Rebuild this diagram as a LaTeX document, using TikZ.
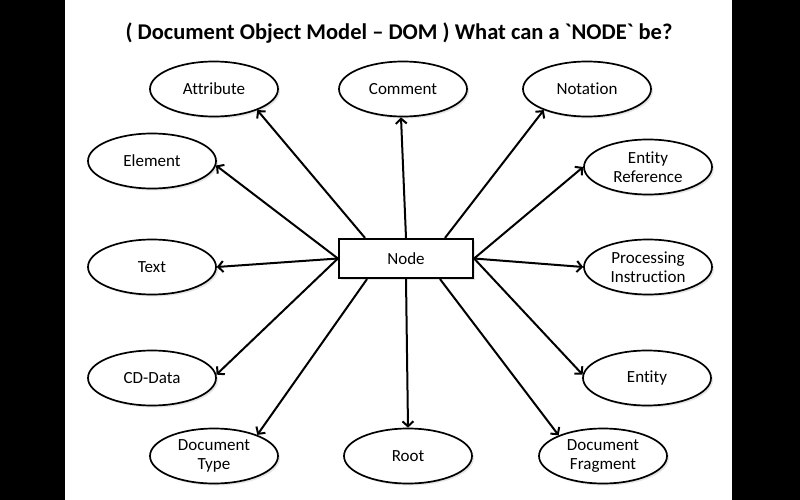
\documentclass[tikz,border=0pt]{standalone}
\usepackage{fontspec}
\setmainfont{Carlito}[Ligatures=CommonOff]
\newfontfamily\ttlfont{Carlito}[Ligatures={TeXOff,CommonOff}]
\usetikzlibrary{arrows.meta,shadows,shapes.geometric}
\begin{document}
\begin{tikzpicture}[x=1pt,y=-1pt,
  ell/.style={ellipse,draw,line width=1.7pt,minimum width=128pt,minimum height=55pt,
    inner sep=0pt,align=center,font=\fontsize{17}{19.5}\selectfont,fill=white,
    drop shadow={shadow xshift=2pt,shadow yshift=-2pt,opacity=0.2}},
  box/.style={rectangle,draw,line width=2.2pt,minimum width=134pt,minimum height=39pt,
    inner sep=0pt,fill=white,font=\fontsize{17}{19.5}\selectfont,
    drop shadow={shadow xshift=2pt,shadow yshift=-2pt,opacity=0.2}},
  arr/.style={line width=2pt,-{Straight Barb[length=5pt,width=11pt]}},
  ttl/.style={font=\ttlfont\fontsize{22.5}{26}\selectfont\bfseries}]
\useasboundingbox (0,0) rectangle (800,500);
\fill[black] (0,0) rectangle (65,500);
\fill[black] (732,0) rectangle (800,500);
\fill[white] (65,0) rectangle (732,500);

\node[ttl] (title) at (399,33) {( Document Object Model – DOM ) What can a `NODE` be?};

\node[box] (n) at (406,258.5) {Node};

\node[ell] (attr) at (214,89) {Attribute};
\node[ell] (comm) at (403,89) {Comment};
\node[ell] (nota) at (587,89) {Notation};
\node[ell] (elem) at (152,161) {Element};
\node[ell] (eref) at (648,167) {Entity\\Reference};
\node[ell] (text) at (152,267) {Text};
\node[ell] (proc) at (648,267) {Processing\\Instruction};
\node[ell] (cdd) at (152,378) {CD-Data};
\node[ell] (ent) at (647,378) {Entity};
\node[ell] (dtype) at (214,456) {Document\\Type};
\node[ell] (root) at (408,456) {Root};
\node[ell] (frag) at (603,456) {Document\\Fragment};

\draw[arr] ([xshift=-41pt]n.north) -- (attr.-26);
\draw[arr] (n.north) -- ([xshift=-2pt]comm.south);
\draw[arr] ([xshift=39pt]n.north) -- (nota.-154);
\draw[arr] (n.west) -- (elem.-4);
\draw[arr] (n.west) -- (text.0);
\draw[arr] (n.west) -- (cdd.3);
\draw[arr] (n.east) -- (eref.180);
\draw[arr] (n.east) -- (proc.180);
\draw[arr] (n.east) -- (ent.177);
\draw[arr] ([xshift=-39pt]n.south) -- (dtype.26);
\draw[arr] (n.south) -- (root.north);
\draw[arr] ([xshift=34pt]n.south) -- (frag.155);
\end{tikzpicture}
\end{document}
